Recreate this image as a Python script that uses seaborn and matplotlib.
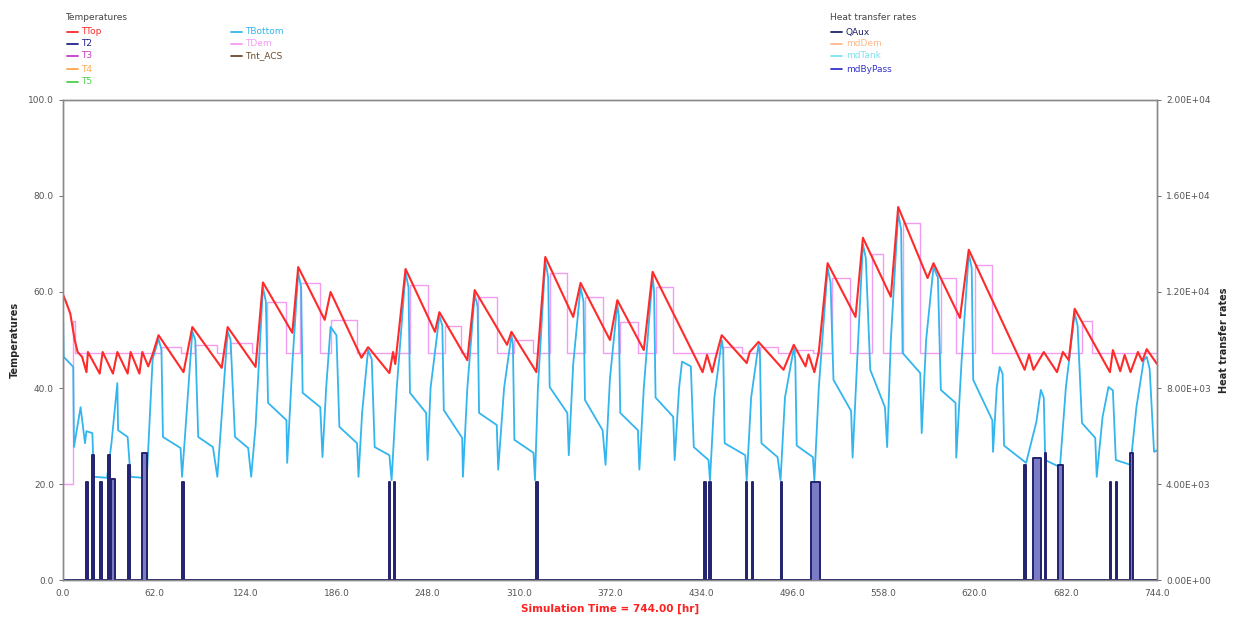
import numpy as np
import pandas as pd
import seaborn as sns
import matplotlib.pyplot as plt
import matplotlib.ticker as tkr
from matplotlib.lines import Line2D

# ---- data (hours, deg C / W) ----
ttop_h = [0, 2, 5, 8, 10, 13, 16, 17, 25, 27, 34, 37, 44, 46, 52, 54, 58, 61, 65,
          82, 88, 108, 112, 131, 136, 156, 160, 178, 182, 203, 207.5, 209, 222, 224.5, 226, 233,
          253, 256, 275, 280, 302, 305, 322, 328, 347, 352, 372, 377, 395, 401,
          435, 438, 441.5, 444, 448, 465, 467, 473, 490, 497, 505, 507, 511, 514, 520,
          539, 544, 563, 568, 588, 592, 610, 616,
          654, 657, 660, 667, 676, 680, 684, 688,
          712, 714, 719, 722, 726, 731, 734, 737, 744]
ttop_v = [59.5, 58, 55.5, 50, 47.5, 46.5, 43.3, 47.5, 43, 47.5, 43, 47.5, 43, 47.5, 43, 47.5, 44.5, 47, 51,
          43.3, 52.7, 44.2, 52.7, 44.4, 62, 51.5, 65.2, 54.2, 60, 46.3, 48.5, 48, 43.1, 47.5, 45, 64.8,
          51.7, 55.8, 45.8, 60.4, 49, 51.7, 43.3, 67.3, 54.8, 61.9, 50, 58.3, 47.9, 64.2,
          43.3, 46.9, 43.3, 46.5, 51, 45.2, 47.5, 49.6, 43.8, 49, 44.5, 47, 43.3, 47.5, 66,
          54.8, 71.3, 59, 77.7, 62.9, 66, 54.6, 68.8,
          43.8, 47, 43.8, 47.5, 43.3, 47.5, 45.8, 56.5,
          43.3, 47.9, 43.5, 46.9, 43.3, 47.5, 45.6, 48.1, 45]

tbot_h = [0, 0.5, 7, 7.5, 12, 15, 16, 20, 21, 30, 33, 37, 37.5, 44, 46, 54, 57, 61, 65,
          67, 68, 80, 81, 83, 88,
          90, 92, 102, 105, 107, 112,
          114, 117, 126, 128, 131, 136,
          138, 139.5, 152, 152.5, 156, 160,
          162, 163, 175, 176.5, 179, 182, 186, 188, 200, 201, 203.5, 207.5, 210, 212, 222, 223.5, 227, 233,
          235, 236, 247, 248, 250, 256,
          258, 259, 271.5, 272, 275, 280,
          282, 283, 295, 296, 300, 305,
          306, 307, 320, 321, 323, 328,
          330, 331, 343, 344, 347, 352,
          354, 355, 367, 369, 372, 377,
          378, 379, 391, 392, 395, 401,
          402, 403, 415, 416, 419, 421, 427, 429, 439, 440, 443, 448,
          449, 450, 464, 465, 468, 473,
          474, 475, 486, 488, 491, 497,
          498, 499, 510, 511, 514, 520,
          522, 524, 536, 537, 540, 544,
          546, 549, 559, 560.5, 563, 568,
          570, 571, 583, 584, 587, 592,
          595, 597, 607, 607.5, 611, 616,
          618, 619, 632, 632.5, 635, 637, 639, 640, 655,
          662, 665, 667, 668, 678, 682, 688,
          690, 693, 702, 703, 707, 711, 714, 716, 726, 730, 735, 737, 739, 742, 744]
tbot_v = [57, 46.5, 44.4, 27.7, 36, 28.5, 31, 30.6, 21.5, 21.3, 28.5, 41, 31.2, 29.8, 21.5, 21.3, 21, 46, 50.2,
          48, 29.8, 27.5, 21.5, 30, 51.8,
          50, 29.8, 27.7, 21.5, 30, 51.8,
          50, 29.8, 27.5, 21.5, 32, 61,
          58, 36.9, 33.3, 24.4, 45, 64,
          61, 39, 36, 25.6, 40, 52.7, 51, 31.9, 28.5, 21.5, 35, 47.9, 46, 27.7, 26, 20.8, 40, 64,
          61, 39, 34.8, 25, 40, 55,
          53, 35.4, 29.6, 21.5, 40, 59.5,
          57, 34.8, 32.3, 23, 40, 51,
          49, 29.2, 26.5, 20.8, 40, 66.5,
          63, 40.2, 34.8, 26, 45, 61,
          58, 37.5, 31.2, 24, 42, 57.5,
          55, 34.8, 31.2, 23, 40, 63.5,
          60, 38, 34, 25, 40, 45.5, 44.5, 27.7, 25, 20.8, 38, 50,
          48, 28.5, 26, 20.8, 38, 49,
          47, 28.5, 25.6, 20.8, 38, 48.3,
          46, 28, 25.6, 20.8, 40, 65,
          62, 41.7, 35.2, 25.5, 45, 70,
          67, 43.8, 36, 27.7, 50, 76.5,
          73, 47.3, 43.1, 30.6, 50, 65.2,
          63, 39.6, 36.9, 25.5, 45, 68,
          65, 41.7, 33.3, 26.7, 40, 44.4, 43, 28, 24.4,
          33, 39.6, 38, 25, 23.5, 40, 55.6,
          53, 32.7, 29.6, 21.5, 34, 40.2, 39.5, 25, 24, 36, 45.8, 46.5, 44, 26.7, 27]

# TDem: held value during draw-offs, otherwise at the base level
tdem_base = 47.3
tdem_start = [0, 7, 67, 90, 113.5, 139, 161, 182, 236, 260, 282, 307, 331, 355, 379, 403,
              449, 474, 498, 523, 550, 571, 597, 620, 693]
tdem_end = [7, 8, 80, 105, 128.5, 152, 175, 200, 248, 271, 295, 320, 343, 367, 391, 415,
            462, 486, 510, 535, 558, 583, 607, 632, 700]
tdem_level = [20, 54, 48.5, 49, 49.4, 58, 61.9, 54.2, 61.5, 53, 59, 50, 64, 59, 53.8, 61,
              48.5, 48.5, 48, 63, 68, 74.4, 63, 65.6, 54]

# QAux: auxiliary heater pulses (right axis)
qaux_start = [16, 20, 25.5, 30.5, 33, 44.5, 53.5, 81.3, 221.5, 225, 322, 436, 439.5, 464.5,
              468.5, 488, 509, 653.5, 659.5, 667.5, 676.5, 712, 716, 725.5]
qaux_end = [16.8, 20.8, 26.3, 32, 35.5, 45.5, 57, 82, 222.3, 225.8, 322.8, 437, 441, 465.3,
            469.3, 488.8, 515, 655, 665, 668.5, 680, 712.7, 716.7, 727.5]
qaux_level = [4100, 5200, 4100, 5200, 4200, 4800, 5300, 4100, 4100, 4100, 4100, 4100, 4100, 4100,
              4100, 4100, 4100, 4800, 5100, 5300, 4800, 4100, 4100, 5300]

temp_labels = ["TTop", "T2", "T3", "T4", "T5", "TBottom", "TDem", "Tnt_ACS"]
temp_colors = ["#ff2a2a", "#22228a", "#c43cc4", "#ffa64d", "#4ccf4c", "#33b5ee", "#f29cf2", "#6b4a2a"]
heat_labels = ["QAux", "mdDem", "mdTank", "mdByPass"]
heat_colors = ["#22226e", "#ffb88a", "#7fe0f0", "#3535c8"]

x_ticks = [0, 62, 124, 186, 248, 310, 372, 434, 496, 558, 620, 682, 744]


def steps(starts, ends, levels, base):
    xs, ys = [0.0], [base]
    for s, e, lv in zip(starts, ends, levels):
        xs += [s, s, e, e]
        ys += [base, lv, lv, base]
    xs.append(744.0)
    ys.append(base)
    return np.array(xs), np.array(ys)


def main():
    assert len(ttop_h) == len(ttop_v) and len(tbot_h) == len(tbot_v)

    sns.set_style("white")
    plt.rcParams['font.family'] = ['DejaVu Sans']

    fig = plt.figure(figsize=(12.34, 6.21), dpi=100)
    ax = fig.add_axes([0.051, 0.066, 0.8866, 0.773])
    ax2 = ax.twinx()

    # heater pulses on the right axis
    qx, qy = steps(qaux_start, qaux_end, qaux_level, 0.0)
    ax2.fill_between(qx, 0, qy, color="#7b7bc6", lw=0)
    sns.lineplot(x=qx, y=qy, estimator=None, sort=False, ax=ax2, color=heat_colors[0], lw=1.4)

    dx, dy = steps(tdem_start, tdem_end, tdem_level, tdem_base)
    sns.lineplot(x=dx, y=dy, estimator=None, sort=False, ax=ax, color=temp_colors[6], lw=1.0)
    sns.lineplot(x=tbot_h, y=tbot_v, estimator=None, sort=False, ax=ax, color=temp_colors[5], lw=1.3)
    sns.lineplot(x=ttop_h, y=ttop_v, estimator=None, sort=False, ax=ax, color=temp_colors[0], lw=1.5)

    ax.set_xlim(0, 744)
    ax.set_ylim(0, 100)
    ax2.set_ylim(0, 20000)
    ax.set_xticks(x_ticks)
    ax.set_yticks([0, 20, 40, 60, 80, 100])
    ax2.set_yticks([0, 4000, 8000, 12000, 16000, 20000])
    ax.xaxis.set_major_formatter(tkr.FormatStrFormatter("%.1f"))
    ax.yaxis.set_major_formatter(tkr.FormatStrFormatter("%.1f"))
    ax2.yaxis.set_major_formatter(tkr.FuncFormatter(lambda v, p: "{:.2E}".format(v)))

    for a in (ax, ax2):
        a.tick_params(labelsize=6.5, colors="#555555", length=3, width=0.6)
        for sp in a.spines.values():
            sp.set_color("#8a8a8a")
            sp.set_linewidth(1.0)

    ax.set_xlabel("Simulation Time = 744.00 [hr]", color="#ff2020", fontsize=7.5,
                  fontweight="bold", labelpad=4)
    ax.set_ylabel("Temperatures", fontsize=7, fontweight="bold", labelpad=6)
    ax2.set_ylabel("Heat transfer rates", fontsize=7, fontweight="bold", labelpad=6)

    # legends drawn as in the source program
    W, H = 1234.0, 621.0
    fig.text(65 / W, 1 - 17 / H, "Temperatures", fontsize=6.5, color="#444444", va="center")
    rows = [32, 44, 56, 69, 82]
    for i, (lab, col) in enumerate(zip(temp_labels, temp_colors)):
        cx = 67 if i < 5 else 231
        cy = rows[i if i < 5 else i - 5]
        fig.add_artist(Line2D([cx / W, (cx + 11) / W], [1 - cy / H, 1 - cy / H], color=col, lw=1.3))
        fig.text((cx + 14) / W, 1 - cy / H, lab, fontsize=6.5, color=col, va="center")
    fig.text(830 / W, 1 - 17 / H, "Heat transfer rates", fontsize=6.5, color="#444444", va="center")
    for i, (lab, col) in enumerate(zip(heat_labels, heat_colors)):
        cy = rows[i]
        fig.add_artist(Line2D([831 / W, 842 / W], [1 - cy / H, 1 - cy / H], color=col, lw=1.3))
        fig.text(846 / W, 1 - cy / H, lab, fontsize=6.5, color=col, va="center")

    plt.savefig("out.png", dpi=100)


if __name__ == "__main__":
    main()
